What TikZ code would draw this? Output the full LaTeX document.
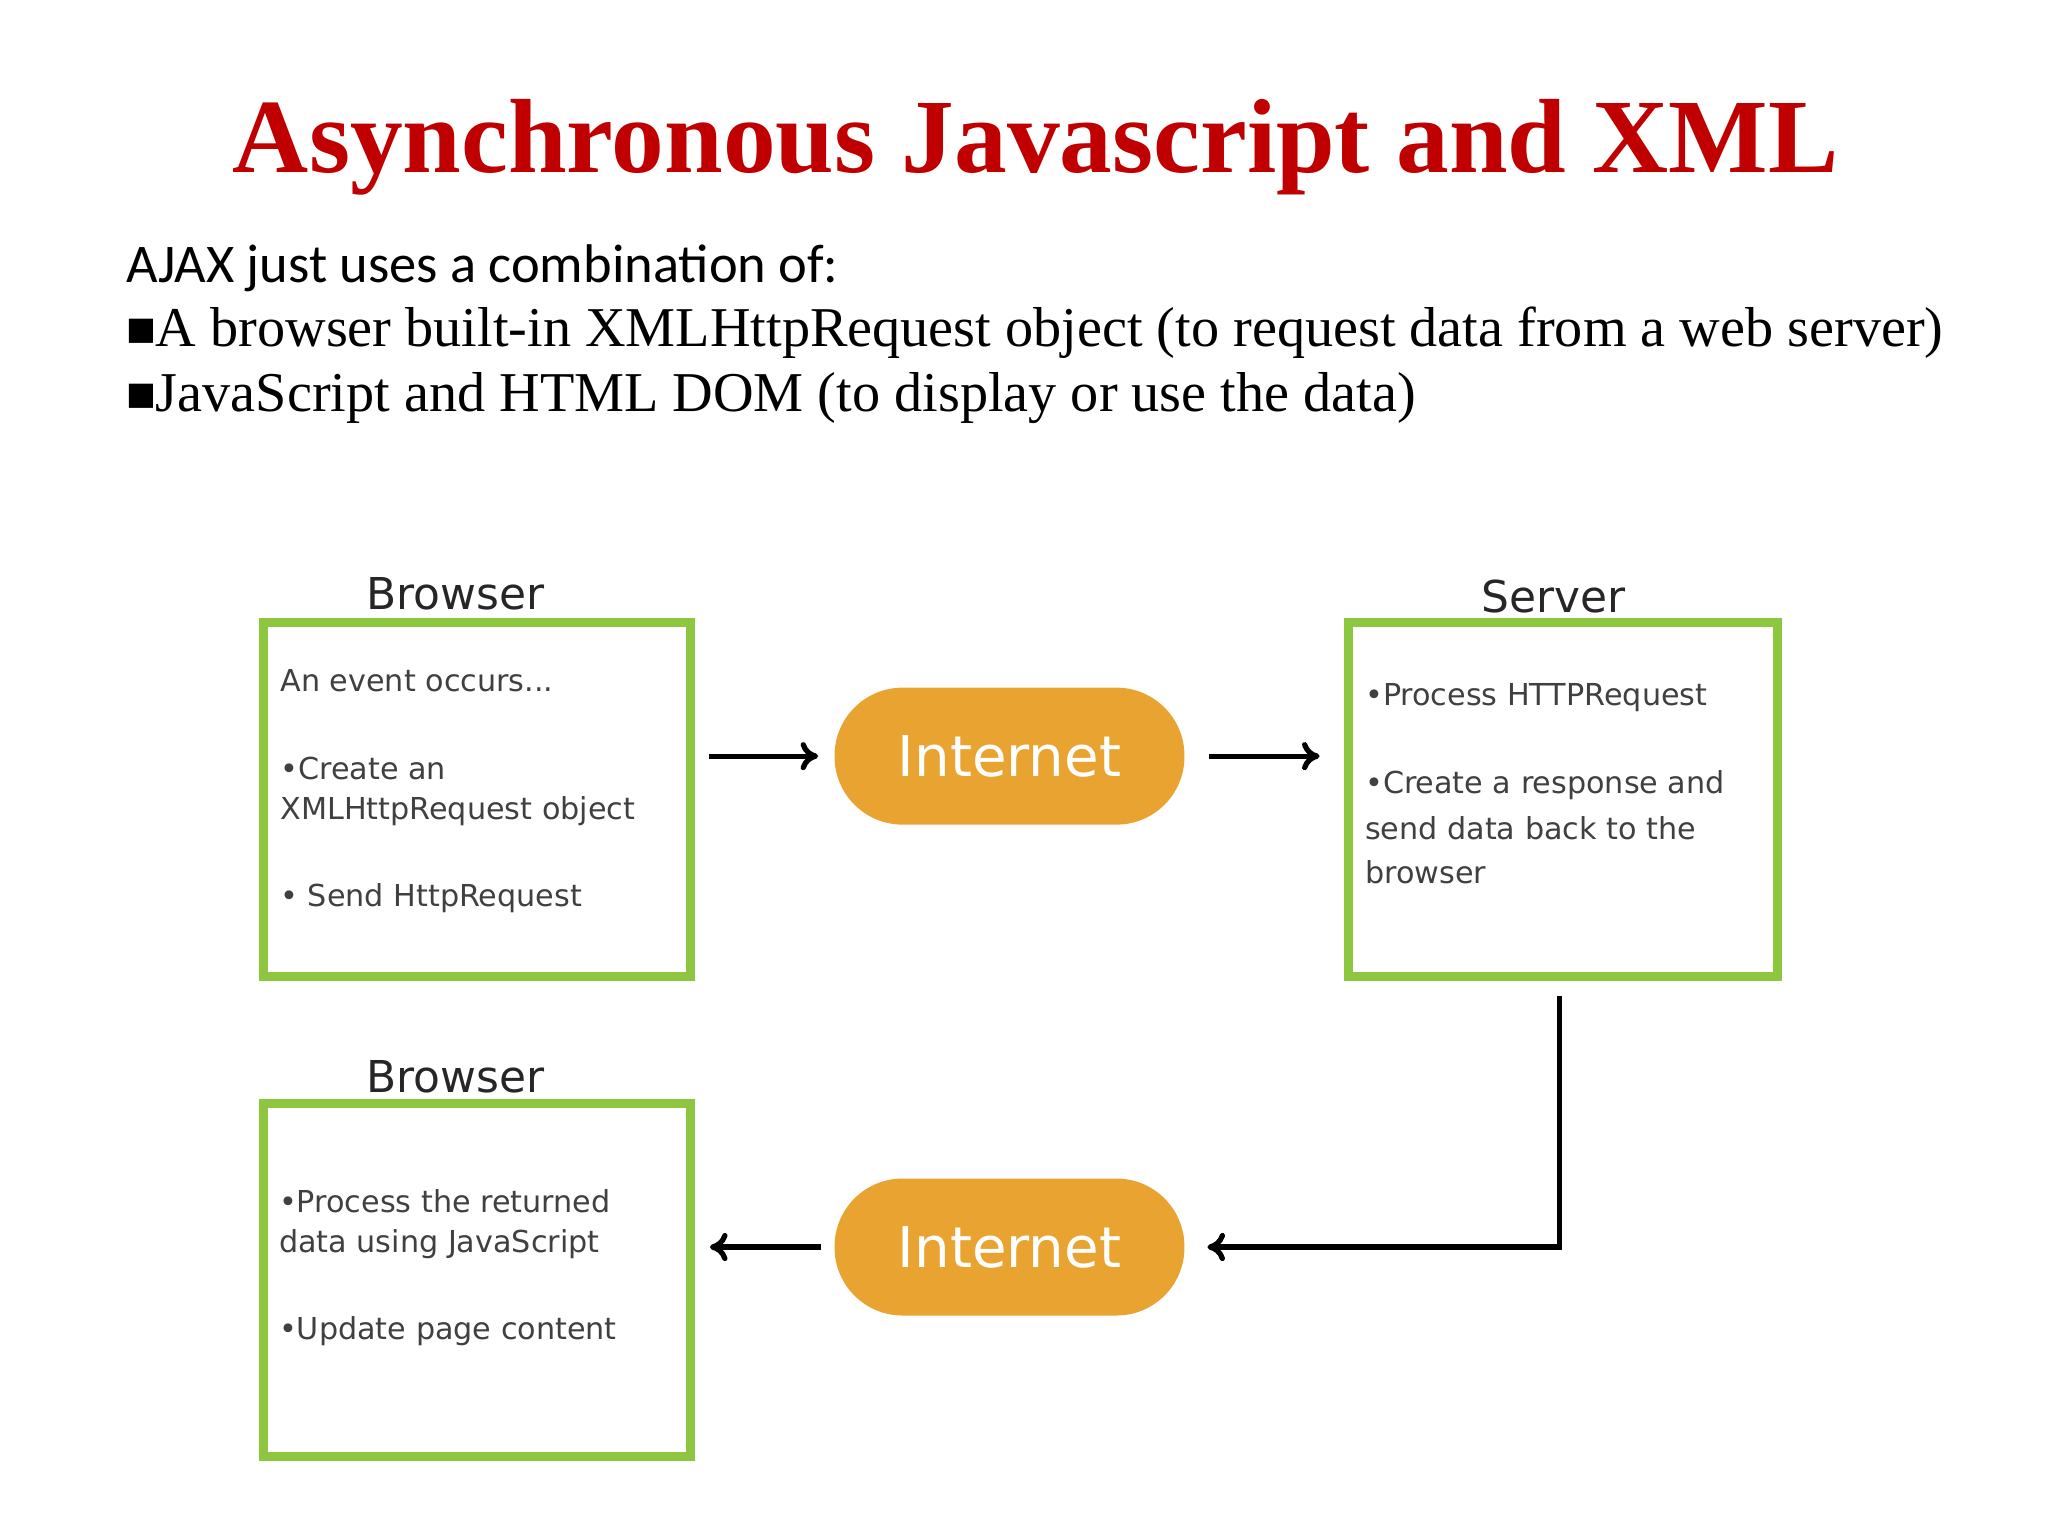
\documentclass[tikz,border=0pt]{standalone}
\usepackage{fontspec}
\usetikzlibrary{arrows.meta}
\setmainfont{Liberation Serif}
\newfontfamily\carlitofnt{Carlito}
\newfontfamily\dvfnt{DejaVu Sans}
\definecolor{ttl}{HTML}{C00000}
\definecolor{grn}{HTML}{8DC63F}
\definecolor{org}{HTML}{E9A331}
\definecolor{gtx}{HTML}{404040}
\begin{document}
\begin{tikzpicture}[x=0.013196cm,y=-0.013196cm,
  box/.style={draw=grn,line width=2.6pt,fill=white},
  net/.style={fill=org,rounded corners=0.68cm,text=white,font=\dvfnt\fontsize{16}{18}\selectfont},
  lab/.style={font=\dvfnt\fontsize{12.5}{14}\selectfont,text=black!85},
  ln/.style={anchor=west,inner sep=0,font=\dvfnt\fontsize{8.6}{10}\selectfont,text=gtx},
  arr/.style={line width=1.5pt,-{To[length=5pt,width=8pt]}}]
\useasboundingbox (0,0) rectangle (1552,1164);
\node[font=\bfseries\fontsize{30}{34}\selectfont,text=ttl] (title) at (785,112) {Asynchronous Javascript and XML};
\node[anchor=west,inner sep=0,font=\carlitofnt\fontsize{15.5}{18}\selectfont] (l1) at (95,203) {AJAX just uses a combination of:};
\node[anchor=west,inner sep=0,font=\fontsize{16}{18}\selectfont] (l2) at (95,252) {{\dvfnt\fontsize{9}{10}\selectfont\raisebox{2pt}{■}}A browser built-in XMLHttpRequest object (to request data from a web server)};
\node[anchor=west,inner sep=0,font=\fontsize{16}{18}\selectfont] (l3) at (95,302) {{\dvfnt\fontsize{9}{10}\selectfont\raisebox{2pt}{■}}JavaScript and HTML DOM (to display or use the data)};
% boxes
\draw[box] (200,472) rectangle (523,740);
\draw[box] (1022,472) rectangle (1347,740);
\draw[box] (200,836) rectangle (523,1104);
\node[lab] (lb1) at (345,450) {Browser};
\node[lab] (ls) at (1177,452) {Server};
\node[lab] (lb2) at (345,816) {Browser};
\node[ln] (a1) at (212,516) {An event occurs...};
\node[ln] (a2) at (212,582) {\textbullet Create an};
\node[ln] (a3) at (212,615) {XMLHttpRequest object};
\node[ln] (a4) at (212,681) {\textbullet\ Send HttpRequest};
\node[ln] (s1) at (1034,529) {\textbullet Process HTTPRequest};
\node[ln] (s2) at (1034,595) {\textbullet Create a response and};
\node[ln] (s3) at (1034,628) {send data back to the};
\node[ln] (s4) at (1034,661) {browser};
\node[ln] (c1) at (211,910) {\textbullet Process the returned};
\node[ln] (c2) at (211,943) {data using JavaScript};
\node[ln] (c3) at (211,1009) {\textbullet Update page content};
% internet
\node[net,minimum width=3.5cm,minimum height=1.37cm] (n1) at (765,573) {Internet};
\node[net,minimum width=3.5cm,minimum height=1.37cm] (n2) at (765,945) {Internet};
\coordinate (p1) at (537,573); \coordinate (p2) at (620,573);
\coordinate (p3) at (916,573); \coordinate (p4) at (1000,573);
\coordinate (q1) at (1182,755); \coordinate (q2) at (1182,945); \coordinate (q3) at (915,945);
\coordinate (r1) at (622,945); \coordinate (r2) at (538,945);
\draw[arr] (p1) -- (p2);
\draw[arr] (p3) -- (p4);
\draw[arr] (q1) -- (q2) -- (q3);
\draw[arr] (r1) -- (r2);
\end{tikzpicture}
\end{document}
